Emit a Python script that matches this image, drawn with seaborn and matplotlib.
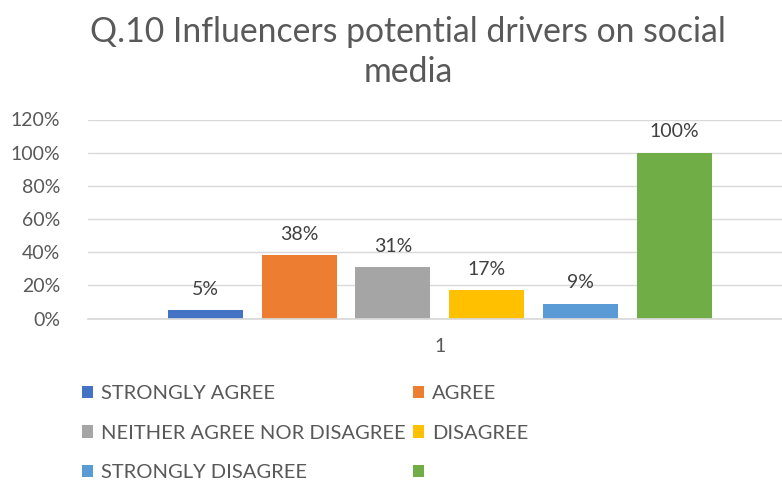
import matplotlib
matplotlib.use("Agg")
import matplotlib.pyplot as plt
from matplotlib.patches import Patch
import pandas as pd
import seaborn as sns

# Survey responses for Q.10
categories = ["STRONGLY AGREE", "AGREE", "NEITHER AGREE NOR DISAGREE",
              "DISAGREE", "STRONGLY DISAGREE", ""]
shares = [0.05, 0.38, 0.31, 0.17, 0.09, 1.00]
group_labels = ["1"] * len(categories)
y_ticks = [0.0, 0.2, 0.4, 0.6, 0.8, 1.0, 1.2]

colors = ["#4472C4", "#ED7D31", "#A5A5A5", "#FFC000", "#5B9BD5", "#70AD47"]

df = pd.DataFrame({"group": group_labels, "response": categories, "share": shares})

sns.set_theme(style="white")
plt.rcParams["font.family"] = ["Lato", "DejaVu Sans"]

text_grey = "#595959"
grid_grey = "#D9D9D9"

fig = plt.figure(figsize=(7.82, 4.83), dpi=100)
ax = fig.add_axes([88 / 782, (483 - 318.5) / 483, 694 / 782, 199 / 483])

sns.barplot(data=df, x="group", y="share", hue="response", hue_order=categories,
            palette=colors, width=0.8, gap=0.2, saturation=1, legend=False,
            edgecolor="none", ax=ax)

ax.set_ylim(0, 1.2)
ax.set_xlim(-0.5, 0.4865)
ax.set_yticks(y_ticks)
ax.set_yticklabels([f"{int(round(t * 100))}%" for t in y_ticks])
ax.grid(axis="y", color=grid_grey, linewidth=1)
ax.set_axisbelow(True)
for name, sp in ax.spines.items():
    sp.set_visible(name == "bottom")
ax.spines["bottom"].set_color(grid_grey)
ax.tick_params(axis="y", length=0, pad=20, labelsize=14, labelcolor=text_grey)
ax.tick_params(axis="x", length=0, pad=14, labelsize=14, labelcolor=text_grey)
ax.set_xlabel("")
ax.set_ylabel("")

# value labels above each bar
for patch, val in zip(ax.patches, shares):
    ax.annotate(f"{int(round(val * 100))}%",
                xy=(patch.get_x() + patch.get_width() / 2, patch.get_height()),
                xytext=(0, 9), textcoords="offset points",
                ha="center", va="bottom", fontsize=14, color="#404040")

fig.text(408 / 782, 1 - 42 / 483, "Q.10 Influencers potential drivers on social",
         ha="center", va="baseline", fontsize=24.3, color=text_grey)
fig.text(408 / 782, 1 - 82 / 483, "media",
         ha="center", va="baseline", fontsize=24.3, color=text_grey)

handles = [Patch(facecolor=c, edgecolor="none") for c in colors]
order = [0, 2, 4, 1, 3, 5]
fig.legend([handles[i] for i in order], [categories[i] for i in order],
           ncol=2, loc="upper left", bbox_to_anchor=(74 / 782, 1 - 377 / 483),
           frameon=False, fontsize=14.5, labelcolor=text_grey,
           handlelength=0.55, handleheight=0.55, handletextpad=0.4,
           columnspacing=0.35, labelspacing=1.12, borderaxespad=0)

fig.savefig("out.png", dpi=100)
